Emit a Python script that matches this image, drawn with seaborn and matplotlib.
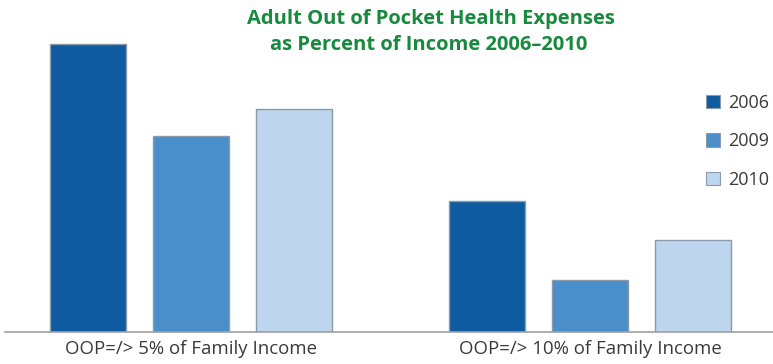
import matplotlib
matplotlib.use("Agg")
import matplotlib.pyplot as plt
import matplotlib.patches as mpatches
import pandas as pd
import seaborn as sns

# Share of adults whose out-of-pocket health spending reaches a given share of income (%)
groups = ["OOP=/> 5% of Family Income", "OOP=/> 10% of Family Income"]
years = ["2006", "2009", "2010"]
values_2006 = [22, 10]
values_2009 = [15, 4]
values_2010 = [17, 7]

colors = ["#0e5c9f", "#4a8fca", "#bdd5ed"]
edge = "#8b9bab"
text_color = "#3a3a3a"
title_color = "#178a3e"

df = pd.DataFrame({
    "group": groups * 3,
    "year": [y for y in years for _ in groups],
    "value": values_2006 + values_2009 + values_2010,
})

sns.set_theme(style="white")
plt.rcParams["font.family"] = ["Open Sans", "DejaVu Sans"]

fig = plt.figure(figsize=(7.73, 3.64), dpi=100)
ax = fig.add_axes([5 / 773, 32 / 364, 768 / 773, 332 / 364])

sns.barplot(data=df, x="group", y="value", hue="year", order=groups,
            hue_order=years, palette=colors, saturation=1, width=0.775,
            gap=0.26, edgecolor=edge, linewidth=1.0, legend=False, ax=ax)

ax.set_xlim(-0.466, 1.459)
ax.set_ylim(0, 22 * 332 / 288)
ax.set_xlabel("")
ax.set_ylabel("")
ax.set_yticks([])
ax.tick_params(axis="x", length=0, pad=6, labelsize=13.4, labelcolor=text_color)
for s in ["top", "right", "left"]:
    ax.spines[s].set_visible(False)
ax.spines["bottom"].set_color("#a0a0a0")
ax.spines["bottom"].set_linewidth(1.2)

fig.text(431 / 773, 1 - 19 / 364, "Adult Out of Pocket Health Expenses",
         ha="center", va="center", fontsize=14.5, fontweight="bold",
         color=title_color)
fig.text(429 / 773, 1 - 45 / 364, "as Percent of Income 2006\u20132010",
         ha="center", va="center", fontsize=14.5, fontweight="bold",
         color=title_color)

handles = [mpatches.Patch(facecolor=c, edgecolor=edge, linewidth=0.8, label=y)
           for c, y in zip(colors, years)]
leg = fig.legend(handles=handles, loc="upper left",
                 bbox_to_anchor=(706 / 773, 1 - 94 / 364), frameon=False,
                 fontsize=13, labelspacing=1.13, handlelength=0.75,
                 handleheight=0.75, handletextpad=0.45, borderpad=0,
                 borderaxespad=0)
for t in leg.get_texts():
    t.set_color(text_color)

fig.savefig("out.png", dpi=100)
